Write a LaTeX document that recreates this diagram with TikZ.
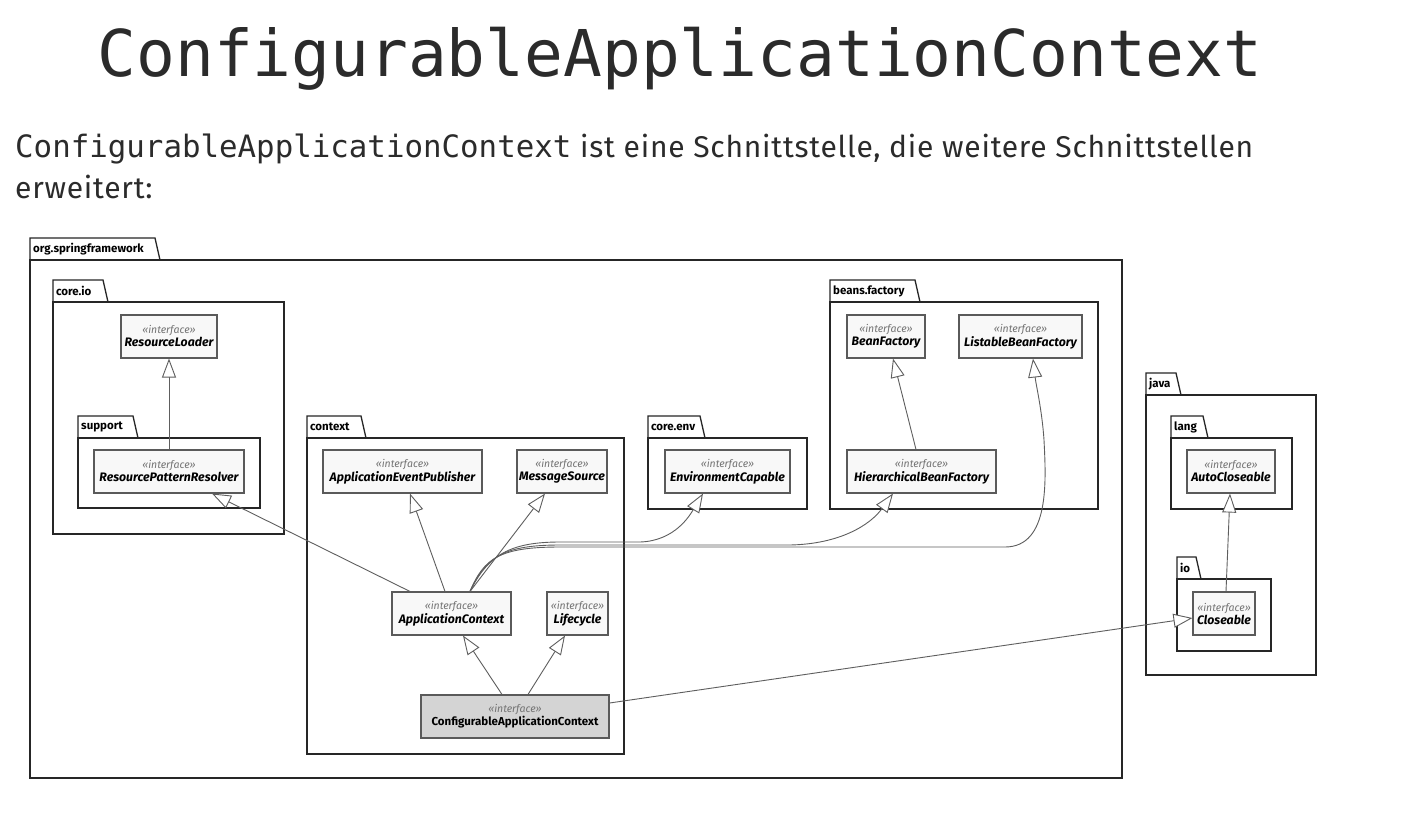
\documentclass[tikz,border=0pt]{standalone}
\usepackage{fontspec}
\setmainfont{Fira Sans}
\newfontfamily\monof{DejaVu Sans Mono}
\newfontfamily\subf[LetterSpace=2.5]{Fira Sans}
\usetikzlibrary{arrows.meta}
\definecolor{ink}{HTML}{2B2B2B}
\definecolor{boxline}{HTML}{5A5A5A}
\definecolor{boxfill}{HTML}{F8F8F8}
\definecolor{cacfill}{HTML}{D4D4D4}
\definecolor{edge}{HTML}{5E5E5E}
\tikzset{
  pkgline/.style={draw=black!85, line width=1.3pt},
  pkglabel/.style={font=\fontsize{11.5}{12}\selectfont\bfseries, inner sep=0pt, text=black},
  cls/.style={draw=boxline, fill=boxfill, line width=1.1pt, minimum height=43pt, inner sep=0pt, align=center},
  gen/.style={draw=edge, line width=0.9pt, -{Triangle[open, length=19pt, width=14pt, fill=white]}},
}
\newcommand{\stereo}{{\fontsize{10.5}{11}\selectfont\itshape\color{black!55}«interface»}}
\newcommand{\cname}[1]{{\fontsize{12.3}{13}\selectfont\bfseries\itshape #1}}
\newcommand{\umlpkg}[7]{%
  \draw[pkgline] (#2,#3) -- (#2,#3-22) -- (#2+#6,#3-22) -- (#2+#6+5,#3);
  \draw[pkgline] (#2,#3) rectangle (#4,#5);
  \node[pkglabel, anchor=west] (#1) at (#2+3,#3-11) {#7};
}
\begin{document}
\begin{tikzpicture}[x=1pt,y=-1pt]
\useasboundingbox[fill=white] (0,0) rectangle (1401,820);
% titles
\node[anchor=base, inner sep=0pt, text=ink] (title) at (680,76) {\monof\fontsize{64.5}{70}\selectfont ConfigurableApplicationContext};
\node[anchor=base west, inner sep=0pt, text=ink] (sub1) at (15,157) {\monof\fontsize{30.8}{34}\selectfont ConfigurableApplicationContext};
\node[anchor=base west, inner sep=0pt, text=ink] (sub2) at (580,157) {\subf\fontsize{30}{34}\selectfont ist eine Schnittstelle, die weitere Schnittstellen};
\node[anchor=base west, inner sep=0pt, text=ink] (sub3) at (15,198) {\subf\fontsize{30}{34}\selectfont erweitert:};
% packages
\umlpkg{porg}{30}{260}{1122}{778}{125}{org.springframework}
\umlpkg{pcoreio}{53}{302}{284}{534}{50}{core.io}
\umlpkg{psupport}{78}{438}{260}{508}{55}{support}
\umlpkg{pcontext}{307}{438}{624}{754}{54}{context}
\umlpkg{pcoreenv}{648}{438}{807}{509}{52}{core.env}
\umlpkg{pbeans}{830}{302}{1098}{509}{85}{beans.factory}
\umlpkg{pjava}{1146}{395}{1316}{675}{30}{java}
\umlpkg{plang}{1171}{438}{1292}{509}{32}{lang}
\umlpkg{pio}{1177}{579}{1271}{651}{19}{io}
% classes
\node[cls, minimum width=96pt] (rl) at (169,336.5) {\stereo\\[1pt]\cname{ResourceLoader}};
\node[cls, minimum width=150pt] (rpr) at (169,471.5) {\stereo\\[1pt]\cname{ResourcePatternResolver}};
\node[cls, minimum width=159pt] (aep) at (402.5,471.5) {\stereo\\[1pt]\cname{ApplicationEventPublisher}};
\node[cls, minimum width=90pt] (ms) at (562,471.5) {\stereo\\[1pt]\cname{MessageSource}};
\node[cls, minimum width=119pt] (ac) at (451.5,613.5) {\stereo\\[1pt]\cname{ApplicationContext}};
\node[cls, minimum width=61pt] (lc) at (577.5,613.5) {\stereo\\[1pt]\cname{Lifecycle}};
\node[cls, minimum width=188pt, fill=cacfill] (cac) at (515,716.5) {\stereo\\[1pt]{\fontsize{11.5}{13}\selectfont\bfseries ConfigurableApplicationContext}};
\node[cls, minimum width=125pt] (ec) at (727.5,471.5) {\stereo\\[1pt]\cname{EnvironmentCapable}};
\node[cls, minimum width=78pt] (bf) at (886,336.5) {\stereo\\[1pt]\cname{BeanFactory}};
\node[cls, minimum width=123pt] (lbf) at (1020.5,336.5) {\stereo\\[1pt]\cname{ListableBeanFactory}};
\node[cls, minimum width=149pt] (hbf) at (921.5,471.5) {\stereo\\[1pt]\cname{HierarchicalBeanFactory}};
\node[cls, minimum width=88pt] (acl) at (1231,471.5) {\stereo\\[1pt]\cname{AutoCloseable}};
\node[cls, minimum width=62pt] (cl) at (1224,613.5) {\stereo\\[1pt]\cname{Closeable}};
% generalizations
\draw[gen] (rpr.north) -- (rl.south);
\draw[gen] ([xshift=-41.5pt]ac.north) -- ([xshift=43pt]rpr.south);
\draw[gen] ([xshift=-6.5pt]ac.north) -- ([xshift=7.5pt]aep.south);
\draw[gen] ([xshift=18.5pt]ac.north) -- ([xshift=-17pt]ms.south);
\draw[gen] ([xshift=18.5pt]ac.north) .. controls (488,555) and (510,542) .. (560,542) -- (640,542) .. controls (675,541) and (690,515) .. ([xshift=-24.5pt]ec.south);
\draw[gen] ([xshift=18.5pt]ac.north) .. controls (486,556) and (505,545) .. (560,545) -- (790,545) .. controls (840,544) and (870,525) .. ([xshift=-28.5pt]hbf.south);
\draw[gen] ([xshift=18.5pt]ac.north) .. controls (484,558) and (500,547) .. (560,547) -- (1005,547) .. controls (1050,547) and (1046,480) .. (1044,440) .. controls (1042,410) and (1036,385) .. ([xshift=12.5pt]lbf.south);
\draw[gen] ([xshift=-13pt]cac.north) -- ([xshift=11.5pt]ac.south);
\draw[gen] ([xshift=13pt]cac.north) -- ([xshift=-12.5pt]lc.south);
\draw[gen] ([yshift=13.5pt]cac.east) -- ([yshift=-4.5pt]cl.west);
\draw[gen] ([xshift=2pt]cl.north) -- ([xshift=-1pt]acl.south);
\draw[gen] ([xshift=-5.5pt]hbf.north) -- ([xshift=7pt]bf.south);
\end{tikzpicture}
\end{document}
